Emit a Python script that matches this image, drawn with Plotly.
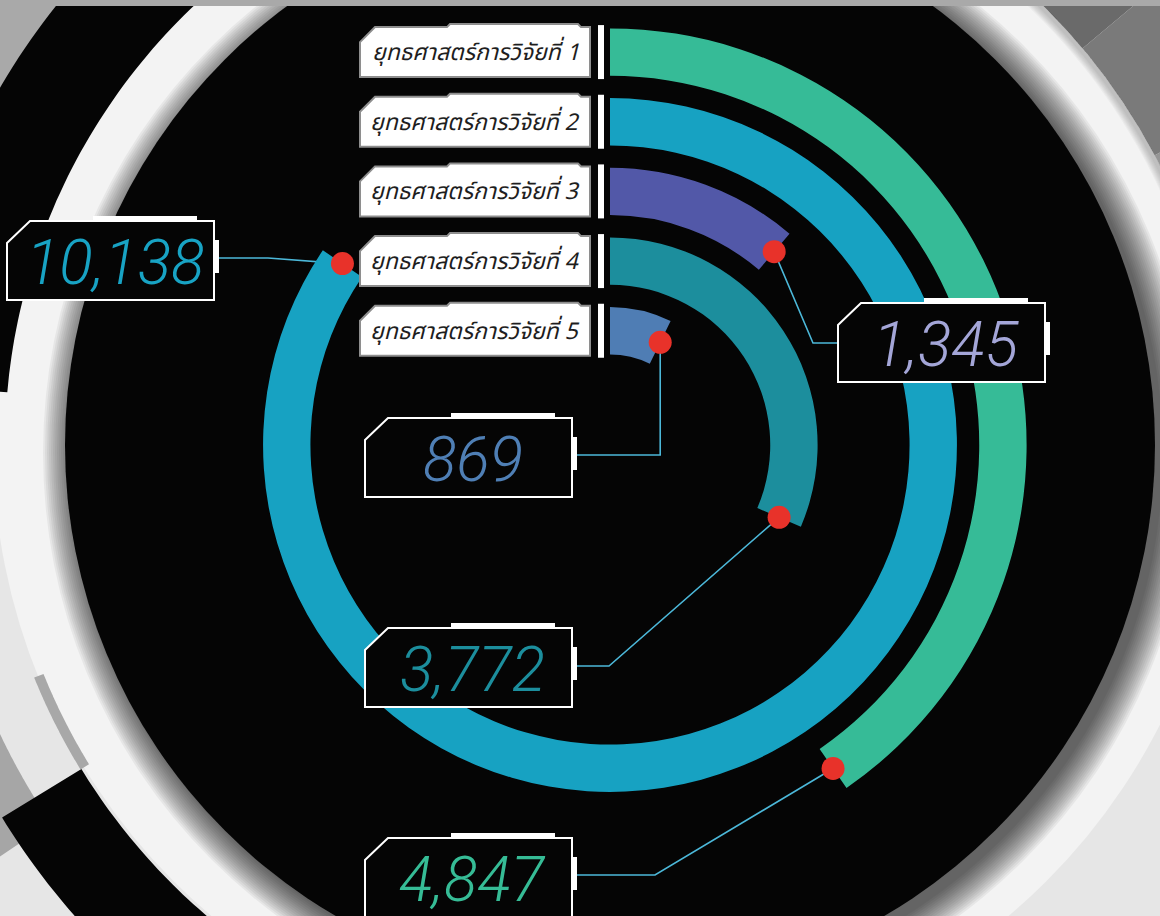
import math
import plotly.graph_objects as go

# ---------------- data ----------------
strategy_labels = [
    "ยุทธศาสตร์การวิจัยที่ 1",
    "ยุทธศาสตร์การวิจัยที่ 2",
    "ยุทธศาสตร์การวิจัยที่ 3",
    "ยุทธศาสตร์การวิจัยที่ 4",
    "ยุทธศาสตร์การวิจัยที่ 5",
]
values = [4847, 10138, 1345, 3772, 869]
value_labels = ["4,847", "10,138", "1,345", "3,772", "869"]
bar_colors = ["#36bb97", "#17a2c2", "#5258a8", "#1c8e9d", "#4f7db4"]
text_colors = ["#36bc96", "#18a3c4", "#a4a6d8", "#1c8e9d", "#4f7fb5"]
FULL_CIRCLE = 12000  # value that would close a full ring

# ---------------- layout constants ----------------
W, H = 1160, 916
CX, CY = 610, 445
R = 418                  # pixel radius of polar area
R_RANGE = 6.0            # radial axis range
UNIT = R / R_RANGE
ring_pos = [5 - i for i in range(len(values))]   # outermost first
BAR_BASE_OFF, BAR_THICK = 0.30, 0.68
DOT_OFF = 0.64

box_xy = [(365, 838), (7, 221), (838, 303), (365, 628), (365, 418)]
BOX_W, BOX_H = 207, 79
corner_pts = [(655, 875), (268, 258), (813, 343), (609, 666), (None, 455)]

deg = [v * 360.0 / FULL_CIRCLE for v in values]


def pol2px(r_units, a_deg):
    rp = r_units * UNIT
    a = math.radians(a_deg)
    return CX + rp * math.sin(a), CY - rp * math.cos(a)


def arc_pts(r, a0, a1, n=80):
    pts = []
    for i in range(n + 1):
        a = math.radians(a0 + (a1 - a0) * i / n)
        pts.append((CX + r * math.sin(a), CY - r * math.cos(a)))
    return pts


def annulus(r0, r1, a0, a1, n=90):
    outer = arc_pts(r1, a0, a1, n)
    inner = arc_pts(r0, a1, a0, n)
    pts = outer + inner
    return "M " + " L ".join(f"{x:.1f},{y:.1f}" for x, y in pts) + " Z"


def poly(pts):
    return "M " + " L ".join(f"{x:.1f},{y:.1f}" for x, y in pts) + " Z"


shapes = []


def add_path(path, fill, layer="below", line_color=None, line_width=0):
    shapes.append(dict(type="path", path=path, xref="x", yref="y",
                       fillcolor=fill, layer=layer,
                       line=dict(color=line_color or fill, width=line_width)))


def add_circle(r, fill, cx=CX, cy=CY, layer="below"):
    shapes.append(dict(type="circle", xref="x", yref="y",
                       x0=cx - r, x1=cx + r, y0=cy - r, y1=cy + r,
                       fillcolor=fill, line=dict(width=0), layer=layer))


# ---------------- background decoration ----------------
# dark grey region upper right
for a0, a1, c in [(-10, 50, "#6a6a6a"), (50, 62, "#7a7a7a"), (62, 74, "#959595"),
                  (74, 86, "#b8b8b8"), (86, 100, "#d6d6d6")]:
    add_path(annulus(600, 1000, a0, a1), c)
# grey region top-left corner
add_path(annulus(700, 1000, 275, 350), "#a9a9a9")
# grey region left lower
add_path(annulus(675, 1000, 236, 252), "#a6a6a6")
# white band
add_circle(617, "#f3f3f3")
# soft shading on white band outer edge (upper right)
for k in range(8):
    add_path(annulus(606 + k, 617, 0, 80), "rgba(90,90,90,0.05)")
# outer black ring segments
add_path(annulus(605, 707, 275, 352), "#050505")
add_path(annulus(620, 713, 180, 238.5), "#050505")
# thin grey arc
add_path(annulus(611, 621, 238.5, 248), "#a8a8a8")
# shadow of the black disk
for k in range(16):
    add_circle(575 - 2 * k, "rgba(0,0,0,0.05)", cx=CX + 8, cy=CY + 8)
# black disk
add_circle(545, "#050505")

# ---------------- label boxes (Thai) ----------------
annotations = []
for i, lab in enumerate(strategy_labels):
    yc = CY - (ring_pos[i] + DOT_OFF) * UNIT
    x0, x1 = 360, 590
    t, b = yc - 25, yc + 25
    pts = [(x0, t + 15), (x0 + 15, t), (x0 + 87, t), (x0 + 90, t - 3),
           (x1 - 12, t - 3), (x1 - 9, t), (x1, t), (x1, b), (x0, b)]
    add_path(poly(pts), "#ffffff", layer="above", line_color="#8e8e8e", line_width=2)
    shapes.append(dict(type="rect", xref="x", yref="y", x0=598, x1=604,
                       y0=t - 2, y1=b + 2, fillcolor="#ffffff",
                       line=dict(width=0), layer="above"))
    annotations.append(dict(x=582, y=yc + 1, xref="x", yref="y", text=lab,
                            showarrow=False, xanchor="right", yanchor="middle",
                            font=dict(family="Noto Sans Thai, Loma, Garuda, Waree, DejaVu Sans, sans-serif",
                                      size=23, color="#1e1e1e", style="italic")))

# ---------------- value boxes ----------------
for i, (bx, by) in enumerate(box_xy):
    x1, b = bx + BOX_W, by + BOX_H
    pts = [(bx, by + 22), (bx + 23, by), (x1, by), (x1, b), (bx, b)]
    add_path(poly(pts), "#050505", layer="above", line_color="#ffffff", line_width=2)
    shapes.append(dict(type="rect", xref="x", yref="y", x0=bx + 86, x1=bx + 190,
                       y0=by - 5, y1=by, fillcolor="#ffffff", line=dict(width=0), layer="above"))
    shapes.append(dict(type="rect", xref="x", yref="y", x0=x1, x1=x1 + 5,
                       y0=by + 19, y1=by + 52, fillcolor="#ffffff", line=dict(width=0), layer="above"))
    annotations.append(dict(x=bx + BOX_W / 2 + 4, y=by + BOX_H / 2 + 2, xref="x", yref="y",
                            text=value_labels[i], showarrow=False,
                            xanchor="center", yanchor="middle",
                            font=dict(family="Roboto, Lato, sans-serif", size=62,
                                      color=text_colors[i], style="italic", weight=300)))

# top strip
shapes.append(dict(type="rect", xref="x", yref="y", x0=0, x1=W, y0=0, y1=6,
                   fillcolor="#a9a9a9", line=dict(width=0), layer="above"))

# ---------------- traces ----------------
fig = go.Figure()

# leader lines (cartesian, pixel space)
for i in range(len(values)):
    dx, dy = pol2px(ring_pos[i] + DOT_OFF, deg[i])
    bx, by = box_xy[i]
    cx_, cy_ = corner_pts[i]
    if cx_ is None:
        cx_ = dx
    if bx > CX:
        sx = bx
    else:
        sx = bx + BOX_W + 5
    fig.add_trace(go.Scatter(x=[sx, cx_, dx], y=[cy_, cy_, dy], mode="lines",
                             line=dict(color="#4cb8d9", width=1.6),
                             hoverinfo="skip", showlegend=False,
                             xaxis="x", yaxis="y"))

# radial bars
fig.add_trace(go.Barpolar(
    r=[BAR_THICK] * len(values),
    base=[p + BAR_BASE_OFF for p in ring_pos],
    theta=[d / 2 for d in deg],
    width=deg,
    marker=dict(color=bar_colors, line=dict(width=0)),
    hovertext=[f"{l}: {v}" for l, v in zip(strategy_labels, value_labels)],
    hoverinfo="text", showlegend=False,
))
# end markers
fig.add_trace(go.Scatterpolar(
    r=[p + DOT_OFF for p in ring_pos], theta=deg, mode="markers",
    marker=dict(color="#e8322a", size=23, line=dict(width=0)),
    hoverinfo="skip", showlegend=False,
))

fig.update_layout(
    width=W, height=H,
    margin=dict(l=0, r=0, t=0, b=0),
    paper_bgcolor="#e6e6e6",
    plot_bgcolor="rgba(0,0,0,0)",
    xaxis=dict(range=[0, W], visible=False, domain=[0, 1], fixedrange=True),
    yaxis=dict(range=[H, 0], visible=False, domain=[0, 1], fixedrange=True),
    polar=dict(
        domain=dict(x=[(CX - R) / W, (CX + R) / W],
                    y=[1 - (CY + R) / H, 1 - (CY - R) / H]),
        bgcolor="rgba(0,0,0,0)",
        radialaxis=dict(range=[0, R_RANGE], visible=False),
        angularaxis=dict(rotation=90, direction="clockwise", visible=False,
                         showgrid=False, showline=False, showticklabels=False),
        barmode="overlay",
    ),
    shapes=shapes,
    annotations=annotations,
    showlegend=False,
)

fig.write_html("out.html")
